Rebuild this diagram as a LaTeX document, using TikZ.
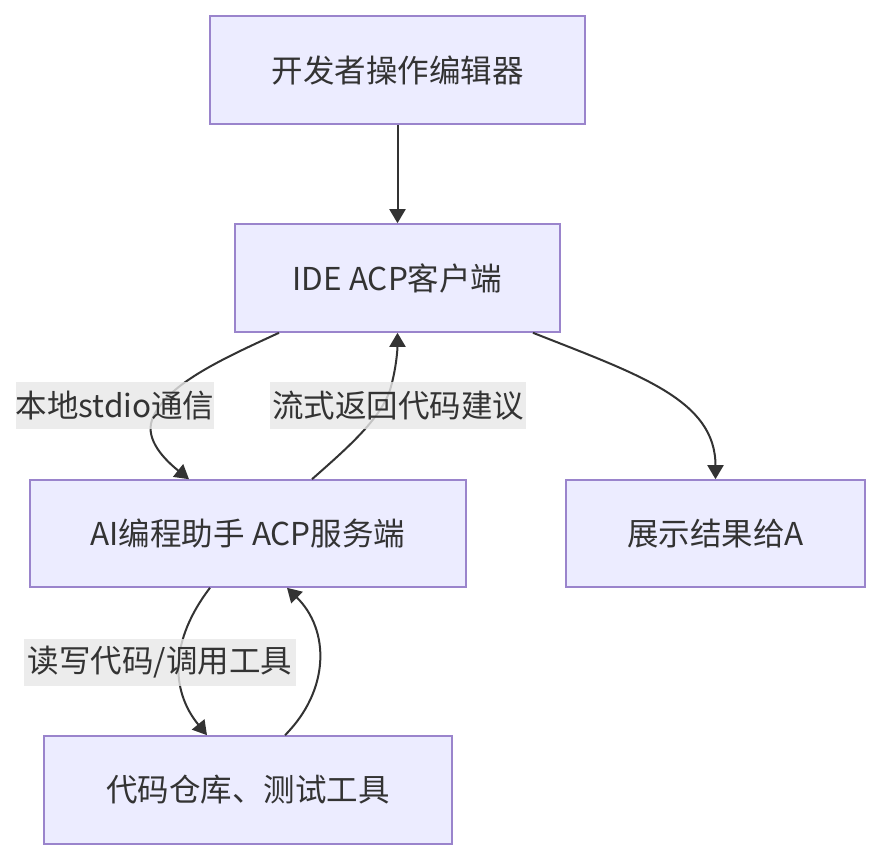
\documentclass[tikz,border=0pt]{standalone}
\usepackage{fontspec}
\setmainfont{Noto Sans CJK SC}
\usetikzlibrary{arrows.meta}
\definecolor{boxfill}{HTML}{ECECFF}
\definecolor{boxdraw}{HTML}{9A84CC}
\definecolor{ink}{HTML}{333333}
\definecolor{lblbg}{HTML}{E8E8E8}
\tikzset{
  box/.style={draw=boxdraw, fill=boxfill, line width=1.6pt, text=ink, inner sep=0pt,
    font=\fontsize{31.5pt}{36pt}\selectfont},
  lbl/.style={fill=lblbg, fill opacity=0.8, text opacity=1, text=ink, inner sep=0pt,
    minimum height=47pt, font=\fontsize{31.5pt}{36pt}\selectfont},
  edge/.style={draw=ink, line width=2pt, -{Triangle[length=14pt,width=16pt]}},
}
\begin{document}
\begin{tikzpicture}[x=1pt,y=-1pt]
\fill[white] (0,0) rectangle (881,860);
\useasboundingbox (0,0) rectangle (881,860);
\node[box, minimum width=375pt, minimum height=108pt] (b1) at (397.5,70) {开发者操作编辑器};
\node[box, minimum width=325pt, minimum height=108pt] (b2) at (397.5,278) {IDE ACP客户端};
\node[box, minimum width=436pt, minimum height=107pt] (b3) at (248,533.5) {AI编程助手 ACP服务端};
\node[box, minimum width=299pt, minimum height=107pt] (b4) at (715.5,533.5) {展示结果给A};
\node[box, minimum width=408pt, minimum height=108pt] (b5) at (248,790) {代码仓库、测试工具};

\draw[edge] (b1.south) -- (b2.north);
\draw[edge] ([xshift=-118.5pt]b2.south) .. controls (220,360) and (165,385) .. (152,420)
   .. controls (145,440) and (165,460) .. ([xshift=-59pt]b3.north);
\draw[edge] ([xshift=64pt]b3.north) .. controls (345,450) and (380,420) .. (390,390)
   .. controls (396,370) and (397.5,350) .. (b2.south);
\draw[edge] ([xshift=135.5pt]b2.south) .. controls (640,375) and (715.5,400) .. (b4.north);
\draw[edge] ([xshift=-38pt]b3.south) .. controls (170,640) and (170,690) .. ([xshift=-41pt]b5.north);
\draw[edge] ([xshift=37pt]b5.north) .. controls (330,690) and (330,630) .. ([xshift=39pt]b3.south);

\node[lbl, minimum width=198pt] (l1) at (115,405.5) {本地stdio通信};
\node[lbl, minimum width=256pt] (l2) at (398,405.5) {流式返回代码建议};
\node[lbl, minimum width=272pt] (l3) at (160,662) {读写代码/调用工具};
\end{tikzpicture}
\end{document}
